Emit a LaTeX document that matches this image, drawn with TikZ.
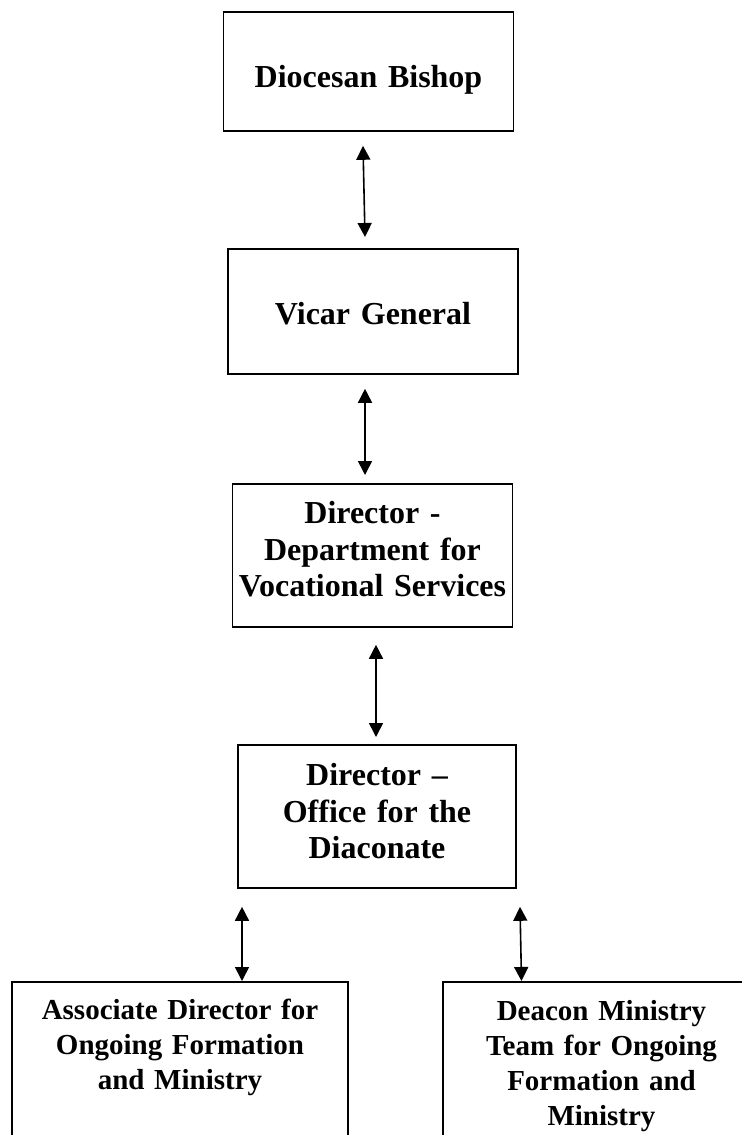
\documentclass[tikz,border=0pt]{standalone}
\usepackage{fontspec}
\setmainfont{Liberation Serif}
\usetikzlibrary{arrows.meta}

\begin{document}
\begin{tikzpicture}[x=0.5pt, y=-0.5pt,
    box/.style = {draw, line width=0.9pt, anchor=north, align=center, inner sep=0pt,
      font=\fontsize{16}{18.25}\selectfont\bfseries},
    lowbox/.style = {box, font=\fontsize{14.5}{17.5}\selectfont\bfseries, text depth=150pt},
    link/.style = {{Triangle[length=7pt,width=7pt]}-{Triangle[length=7pt,width=7pt]}, line width=0.8pt}]
  \useasboundingbox (0,0) rectangle (741,1135);
  \node[box, text width=145pt, text height=38pt, text depth=21.5pt] (bishop) at (368.5,11)
    {Diocesan Bishop};
  \node[box, text width=145pt, text height=38pt, text depth=24.5pt] (vicar) at (373,248)
    {Vicar General};
  \node[box, text width=140pt, text height=20pt, text depth=51.5pt] (vocation) at (372.5,483)
    {Director -\\Department for\\Vocational Services};
  \node[box, text width=139pt, text height=20.5pt, text depth=51pt] (diaconate) at (377,744)
    {Director –\\Office for the\\Diaconate};
  \node[lowbox, text width=168pt, text height=19pt] (associate) at (180,981)
    {Associate Director for\\Ongoing Formation\\and Ministry};
  \node[lowbox, text width=158.5pt, text height=19.5pt] (team) at (601.5,981)
    {Deacon Ministry\\Team for Ongoing\\Formation and\\Ministry};
  % links
  \draw[link] ([xshift=-2.75pt, yshift=-7pt]bishop.south) -- ([xshift=-4pt, yshift=5.5pt]vicar.north);
  \draw[link] ([xshift=-4pt, yshift=-7pt]vicar.south) -- ([xshift=-3.75pt, yshift=4pt]vocation.north);
  \draw[link] ([xshift=1.75pt, yshift=-8.5pt]vocation.south) -- ([xshift=-0.5pt, yshift=3.5pt]diaconate.north);
  \draw[link] ([xshift=-67.5pt, yshift=-9pt]diaconate.south) -- ([xshift=31pt]associate.north);
  \draw[link] ([xshift=71.5pt, yshift=-9pt]diaconate.south) -- ([xshift=-40pt]team.north);
\end{tikzpicture}
\end{document}
